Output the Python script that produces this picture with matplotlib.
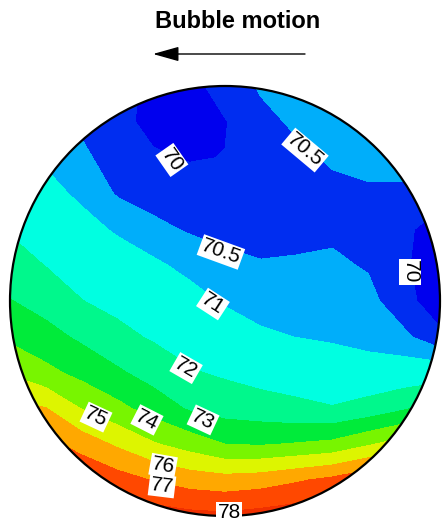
import numpy as np
import matplotlib
matplotlib.use("Agg")
import matplotlib.pyplot as plt
from matplotlib.patches import Circle

plt.rcParams['font.family'] = ['Liberation Sans', 'DejaVu Sans']

# grid over the bubble cross-section, rim has radius 1
x_nodes = np.linspace(-1, 1, 13)
y_nodes = np.linspace(1, -1, 13)

# field values, rows from top to bottom
temp = [
    [70.70, 70.50, 70.30, 70.20, 69.85, 69.80, 70.25, 70.55, 70.70, 70.80, 70.85, 70.90, 71.00],
    [70.85, 70.71, 70.40, 70.12, 69.88, 69.80, 69.97, 70.38, 70.57, 70.70, 70.75, 70.75, 70.90],
    [71.17, 70.91, 70.61, 70.25, 70.05, 69.97, 70.01, 70.22, 70.40, 70.55, 70.60, 70.60, 70.70],
    [71.54, 71.20, 70.88, 70.45, 70.31, 70.20, 70.15, 70.15, 70.25, 70.40, 70.45, 70.45, 70.20],
    [71.91, 71.59, 71.22, 70.92, 70.62, 70.45, 70.38, 70.30, 70.35, 70.40, 70.30, 70.10, 69.75],
    [72.44, 71.97, 71.62, 71.33, 71.11, 70.83, 70.61, 70.54, 70.56, 70.59, 70.45, 70.05, 69.75],
    [73.04, 72.61, 72.02, 71.73, 71.50, 71.24, 70.93, 70.81, 70.78, 70.77, 70.66, 70.15, 69.73],
    [73.79, 73.34, 72.82, 72.26, 71.89, 71.64, 71.38, 71.08, 70.99, 70.90, 70.82, 70.61, 70.10],
    [74.90, 74.26, 73.70, 73.15, 72.58, 72.09, 71.86, 71.60, 71.56, 71.43, 71.25, 71.32, 71.40],
    [76.38, 76.03, 74.96, 74.27, 73.59, 72.89, 72.58, 72.44, 72.20, 72.05, 72.37, 72.88, 73.50],
    [77.50, 77.31, 76.58, 75.85, 75.10, 74.58, 74.00, 73.93, 74.08, 74.27, 74.90, 75.50, 76.00],
    [78.50, 78.50, 78.00, 77.44, 76.95, 76.55, 76.39, 76.53, 76.88, 77.27, 77.80, 78.50, 79.00],
    [79.00, 79.00, 79.00, 78.60, 78.50, 78.30, 78.20, 78.40, 78.60, 78.80, 79.00, 79.00, 79.00],
]

levels = [69, 70, 70.5, 71, 72, 73, 74, 75, 76, 77, 78, 80]
band_colors = ['#0000EE', '#002DF0', '#00AEFA', '#00FFE1', '#00F88C', '#00EB3A',
               '#78F500', '#DDF500', '#FFA800', '#FF4800', '#F03000']

# where the contour labels sit (same units as the grid) and how they lean
label_pos = [(-0.247, 0.656), (0.372, 0.702), (-0.019, 0.228), (0.860, 0.135),
             (-0.056, -0.014), (-0.181, -0.312), (-0.102, -0.553), (-0.363, -0.553),
             (-0.600, -0.540), (-0.288, -0.767), (-0.293, -0.860), (0.019, -0.986)]
label_rot = [-55, -40, -20, -90, -33, -30, -25, -27, -25, -10, -7, 0]

X, Y = np.meshgrid(x_nodes, y_nodes)
Z = np.array(temp)

fig = plt.figure(figsize=(4.43, 5.23), dpi=100)
ax = fig.add_axes([0, 0, 1, 1])
ax.set_xlim(-225 / 215, 218 / 215)
ax.set_ylim(-222 / 215, 301 / 215)
ax.set_aspect('equal')
ax.axis('off')

rim = Circle((0, 0), 1.0, transform=ax.transData, facecolor='none')
cf = ax.contourf(X, Y, Z, levels=levels, colors=band_colors)
cf.set_clip_path(rim)
ax.add_patch(Circle((0, 0), 1.0, fill=False, edgecolor='black', lw=1.6, zorder=3))

# invisible lines just to carry the labels
cs = ax.contour(X, Y, Z, levels=levels[1:-1], colors='black', linewidths=0)
texts = ax.clabel(cs, manual=label_pos, inline=False, fmt='%g', fontsize=15, colors='black')
for t, pos, rot in zip(texts, label_pos, label_rot):
    t.set_position(pos)
    t.set_rotation(rot)
    t.set_bbox(dict(facecolor='white', edgecolor='none', pad=1.0))
    t.set_zorder(4)

fig.text(237.5 / 443, 1 - 22 / 523, 'Bubble motion', ha='center', va='center',
         fontsize=17, fontweight='bold')
ax.annotate('', xy=(153 / 443, 1 - 54 / 523), xytext=(305 / 443, 1 - 54 / 523),
            xycoords='figure fraction', textcoords='figure fraction',
            arrowprops=dict(arrowstyle='-|>,head_length=1.6,head_width=0.45',
                            color='black', lw=1.0, shrinkA=0, shrinkB=0))

fig.savefig('out.png', dpi=100)
